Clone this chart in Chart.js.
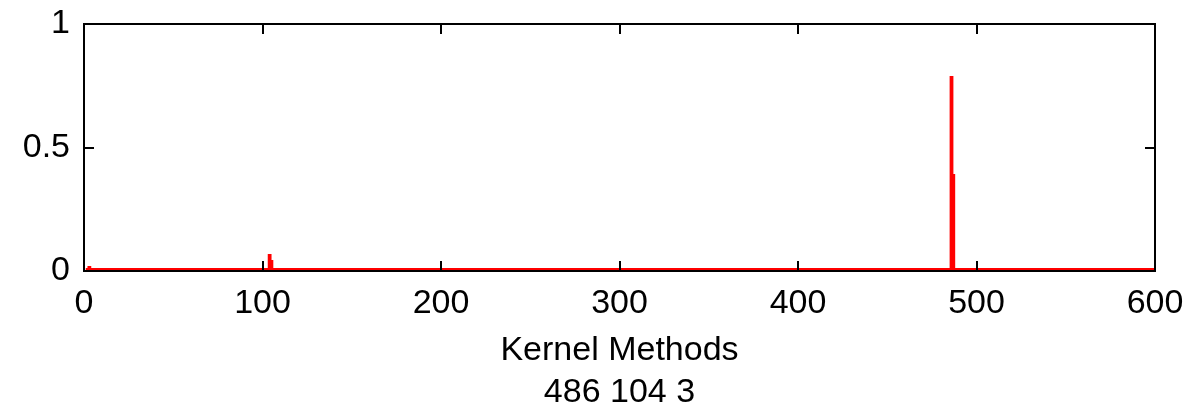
<!DOCTYPE html>
<html>
<head>
<meta charset="utf-8">
<script src="https://cdn.jsdelivr.net/npm/chart.js@4"></script>
<style>
html, body { margin: 0; padding: 0; background: #fff; }
</style>
</head>
<body>
<canvas id="chartKernel" width="1204" height="408"></canvas>
<script>
// weights per feature index (baseline ~0.008)
const featureIndex = [1, 2, 3, 4, 103, 104, 105, 106, 485, 486, 487, 488, 600];
const featureWeight = [0.008, 0.008, 0.016, 0.008, 0.008, 0.065, 0.04, 0.008, 0.008, 0.785, 0.389, 0.008, 0.008];
const xTickValues = [0, 100, 200, 300, 400, 500, 600];
const yTickValues = [0, 0.5, 1];
const xAxisLabel = ['Kernel Methods', '486 104 3'];

const textFont = { family: 'Liberation Sans', size: 34 };

// MATLAB style box with inward tick marks
const boxPlugin = {
    id: 'boxPlugin',
    afterDraw(chart) {
        const ctx = chart.ctx;
        const a = chart.chartArea;
        const x = chart.scales.x;
        const y = chart.scales.y;
        ctx.save();
        ctx.strokeStyle = '#000';
        ctx.lineWidth = 2;
        ctx.strokeRect(a.left, a.top, a.right - a.left, a.bottom - a.top);
        ctx.beginPath();
        xTickValues.forEach(v => {
            const px = Math.round(x.getPixelForValue(v));
            ctx.moveTo(px, a.bottom);
            ctx.lineTo(px, a.bottom - 10);
            ctx.moveTo(px, a.top);
            ctx.lineTo(px, a.top + 10);
        });
        yTickValues.forEach(v => {
            const py = Math.round(y.getPixelForValue(v));
            ctx.moveTo(a.left, py);
            ctx.lineTo(a.left + 10, py);
            ctx.moveTo(a.right, py);
            ctx.lineTo(a.right - 10, py);
        });
        ctx.stroke();
        ctx.restore();
    }
};

const ctx = document.getElementById('chartKernel').getContext('2d');
new Chart(ctx, {
    type: 'line',
    data: {
        datasets: [
            {
                label: 'weight',
                data: featureIndex.map((v, i) => ({ x: v, y: featureWeight[i] })),
                borderColor: '#ff0000',
                backgroundColor: '#ff0000',
                borderWidth: 2,
                pointRadius: 0,
                stepped: 'middle',
                fill: 'origin',
            },
        ]
    },
    options: {
        responsive: false,
        animation: false,
        layout: {
            padding: { left: 0, right: 49, top: 24, bottom: 0 }
        },
        scales: {
            x: {
                type: 'linear',
                min: 0,
                max: 600,
                afterBuildTicks: scale => {
                    scale.ticks = xTickValues.map(v => ({ value: v }));
                },
                afterFit: scale => {
                    scale.height = 137;
                },
                grid: { display: false, drawTicks: false },
                border: { display: false },
                ticks: {
                    color: '#000',
                    font: textFont,
                    padding: 12,
                    maxRotation: 0,
                },
                title: {
                    display: true,
                    text: xAxisLabel,
                    color: '#000',
                    font: { family: 'Liberation Sans', size: 34, lineHeight: 1.22 },
                    padding: { top: 0, bottom: -5 },
                }
            },
            y: {
                min: 0,
                max: 1,
                afterBuildTicks: scale => {
                    scale.ticks = yTickValues.map(v => ({ value: v }));
                },
                afterFit: scale => {
                    scale.width = 84;
                    scale.paddingTop = 0;
                    scale.paddingBottom = 0;
                },
                grid: { display: false, drawTicks: false },
                border: { display: false },
                ticks: {
                    color: '#000',
                    font: textFont,
                    padding: 14,
                    callback: value => String(value),
                }
            }
        },
        plugins: {
            legend: {
                display: false
            },
            title: {
                display: false
            },
            tooltip: {
                enabled: false
            }
        }
    },
    plugins: [boxPlugin]
});
</script>
</body>
</html>
